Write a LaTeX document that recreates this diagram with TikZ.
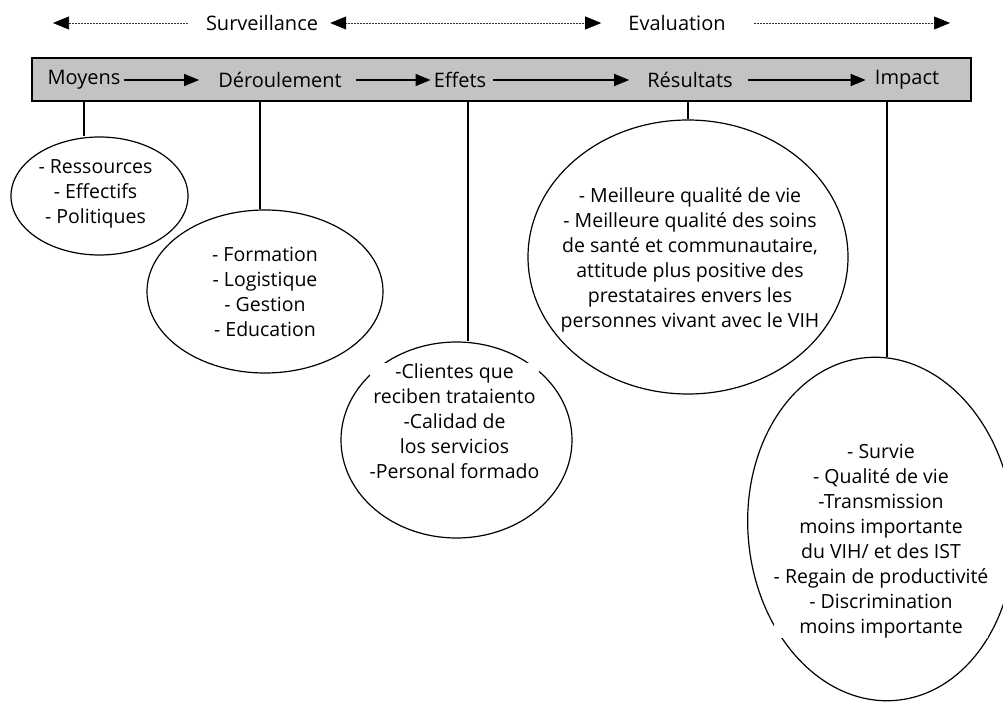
\documentclass[tikz,border=0pt]{standalone}
\usepackage{fontspec}
\setmainfont{Open Sans}
\usepackage{tikz}
\usetikzlibrary{arrows.meta, positioning, shapes.geometric}
\usepackage{xcolor}
\definecolor{barGray}{RGB}{195,195,195}
\tikzset{%
	phase label/.style={
		inner sep=2pt,
		font=\fontsize{20}{25}\selectfont
	},
	bubble/.style={
		ellipse,
		draw,
		line width=1.2pt,
		inner sep=0pt
	},
	bubble text/.style={
		align=center,
		fill=white,
		inner sep=0pt,
		font=\fontsize{19.5}{25}\selectfont
	},
	flow/.style={-{Triangle[length=15pt,width=12pt]}, line width=1.3pt},
	time line/.style={line width=0.6pt, black!80, dash pattern=on 0.6pt off 0.9pt},
	stem/.style={line width=1.2pt},
}

\begin{document}
\begin{tikzpicture}[x=1pt, y=-1pt]
	\useasboundingbox (0,0) rectangle (1003,703);
	
	% surveillance / evaluation
	\node[phase label] (surv) at (262,23) {Surveillance};
	\node[phase label] (eval) at (677,23) {Evaluation};
	\coordinate (survTip) at (53,23);
	\coordinate (evalTip) at (950,23);
	\draw[time line, -{Triangle[length=16pt,width=13pt,black]}, shorten <=16pt] (surv.west) -- (survTip);
	\draw[time line, {Triangle[length=16pt,width=13pt,black]}-{Triangle[length=16pt,width=13pt,black]}, shorten <=10pt, shorten >=25pt] (surv.east) -- (eval.west);
	\draw[time line, -{Triangle[length=16pt,width=13pt,black]}, shorten <=26pt] (eval.east) -- (evalTip);
	
	% chain
	\node[draw, fill=barGray, line width=1.2pt, minimum width=939pt, minimum height=43pt] (bar) at (501.5,79.5) {};
	\node[phase label] (moy) at (84,80) {Moyens};
	\node[phase label] (der) at (280,80) {Déroulement};
	\node[phase label] (eff) at (460,80) {Effets};
	\node[phase label] (res) at (690,80) {Résultats};
	\node[phase label] (imp) at (907,80) {Impact};
	\draw[flow, shorten <=1pt, shorten >=17pt] (moy) -- (der);
	\draw[flow, shorten <=12pt, shorten >=1pt] (der) -- (eff);
	\draw[flow, shorten <=5pt, shorten >=16pt] (eff) -- (res);
	\draw[flow, shorten <=13pt, shorten >=7pt] (res) -- (imp);
	
	% bubbles
	\node[bubble, minimum width=177pt, minimum height=118pt] (moyE) at (99.5,196) {};
	\node[bubble, minimum width=236pt, minimum height=163pt] (derE) at (265,291.5) {};
	\node[bubble, minimum width=231pt, minimum height=196pt] (effE) at (456.5,440) {};
	\node[bubble, minimum width=320pt, minimum height=274pt] (resE) at (688,257) {};
	\node[bubble, minimum width=266pt, minimum height=344pt, rotate=5] (impE) at (881,529) {};
	
	\node[bubble text] (moyT) at (95.5,194) {- Ressources\\- Effectifs\\- Politiques};
	\node[bubble text] (derT) at (265,292) {- Formation\\- Logistique\\- Gestion\\- Education};
	\node[bubble text] (effT) at (454.5,421) {-Clientes que\\reciben trataiento\\-Calidad de\\los servicios\\-Personal formado};
	\node[bubble text] (resT) at (690,260) {- Meilleure qualité de vie\\- Meilleure qualité des soins\\de santé et communautaire,\\attitude plus positive des\\prestataires envers les\\personnes vivant avec le VIH};
	\node[bubble text] (impT) at (881,541) {- Survie\\- Qualité de vie\\-Transmission\\moins importante\\du VIH/ et des IST\\- Regain de productivité\\- Discrimination\\moins importante};
	
	% stems
	\coordinate (moyS) at (84,101);
	\coordinate (derS) at (260,101);
	\coordinate (effS) at (468,101);
	\coordinate (resS) at (688,101);
	\coordinate (impS) at (887,101);
	\draw[stem] (moyS) -- (moyS |- moyE.north);
	\draw[stem] (derS) -- (derS |- derE.north);
	\draw[stem] (effS) -- (effS |- effE.north);
	\draw[stem] (resS) -- (resS |- resE.north);
	\draw[stem] (impS) -- (impS |- impE.north);
	
\end{tikzpicture}
\end{document}
